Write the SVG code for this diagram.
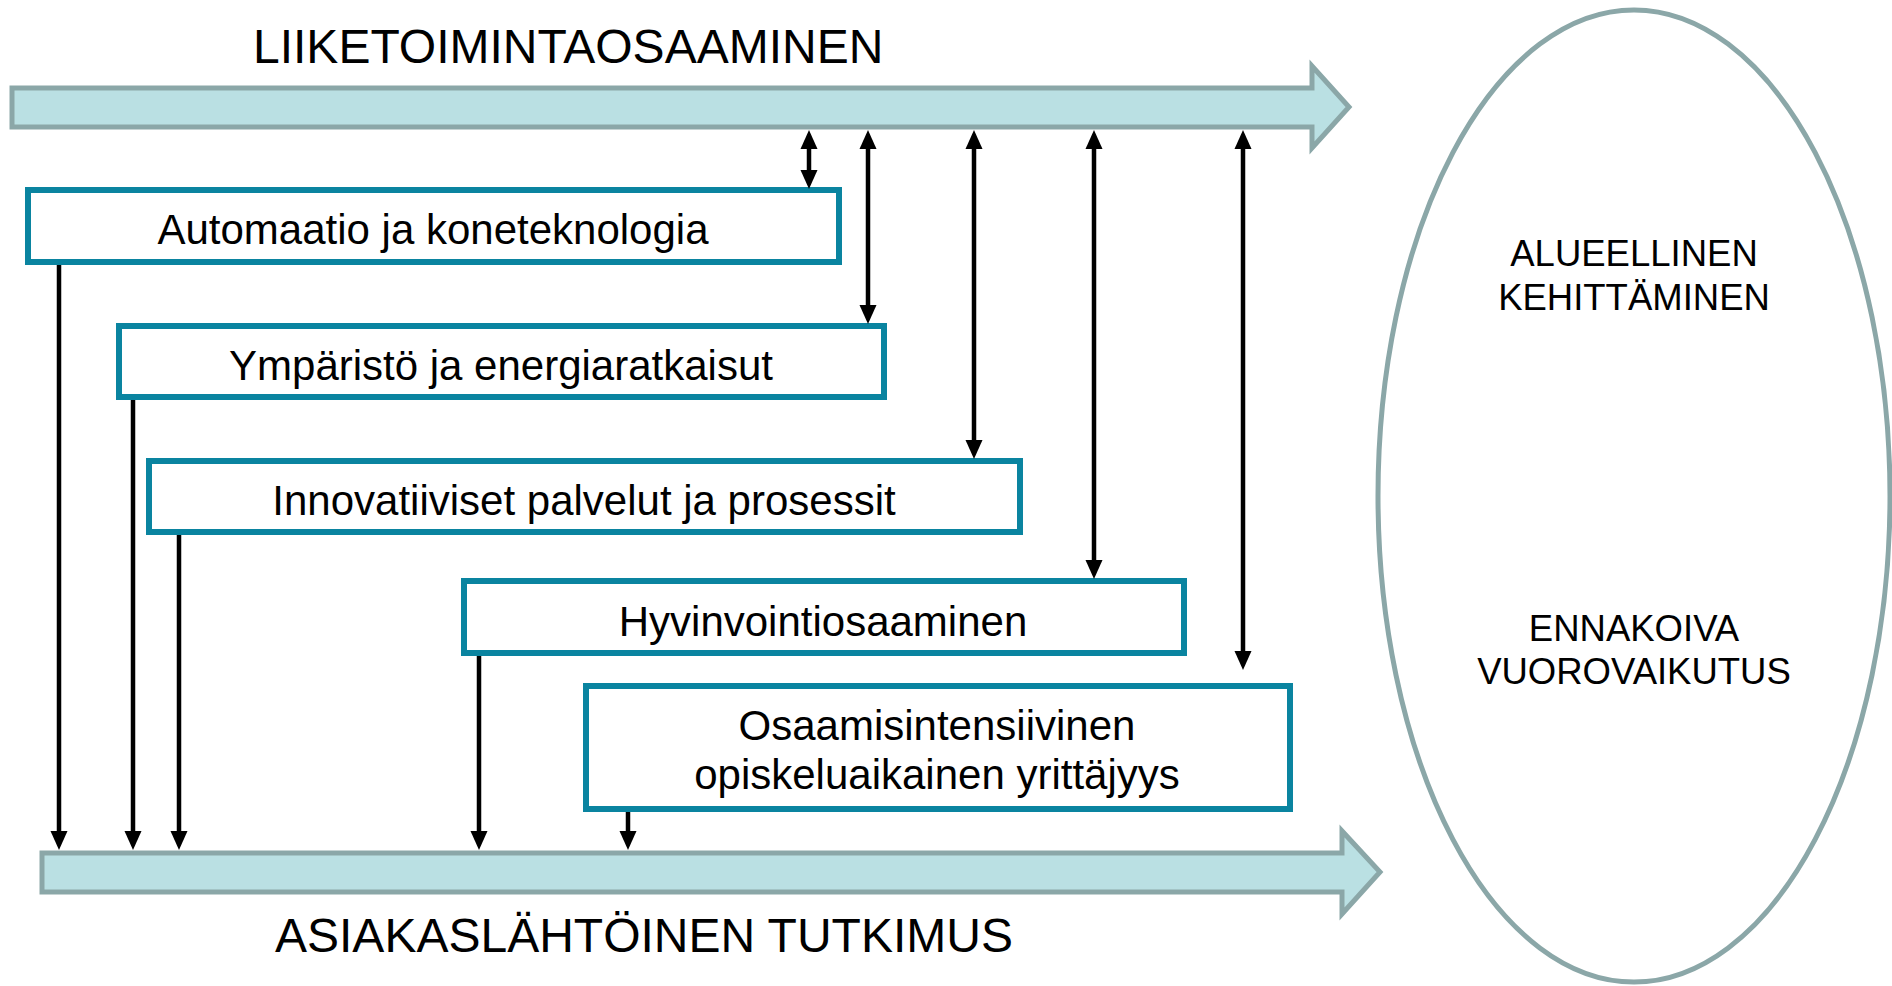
<svg xmlns="http://www.w3.org/2000/svg" width="1892" height="986" viewBox="0 0 1892 986">
<style>
  text { font-family: "Liberation Sans", Arial, sans-serif; fill: #000; }
  .title { font-size: 48px; }
  .box rect { fill: #fff; stroke: #0A84A0; stroke-width: 6; }
  .box text { font-size: 42px; text-anchor: middle; }
  .band { fill: #BAE0E3; stroke: #8BA7A8; stroke-width: 5; }
  .oval { fill: #fff; stroke: #8BA7A8; stroke-width: 5; }
  .oval-text { font-size: 36.5px; text-anchor: middle; }
  .conn line { stroke: #000; stroke-width: 4.5; fill: none; }
</style>
<defs>
  <marker id="ah" markerUnits="userSpaceOnUse" markerWidth="20" markerHeight="18" viewBox="0 0 20 18" refX="9" refY="9" orient="auto-start-reverse">
    <path d="M0,0.5 L19,9 L0,17.5 z" fill="#000"/>
  </marker>
</defs>
<rect width="1892" height="986" fill="#fff"/>

<g id="top-band">
  <polygon class="band" points="12,88 1312,88 1312,66 1349,107 1312,148 1312,127 12,127"/>
  <text class="title" x="253" y="63">LIIKETOIMINTAOSAAMINEN</text>
</g>

<g id="bottom-band">
  <polygon class="band" points="42,853 1342,853 1342,831 1380,872 1342,914 1342,892 42,892"/>
  <text class="title" x="275" y="952">ASIAKASLÄHTÖINEN TUTKIMUS</text>
</g>

<g id="oval">
  <ellipse class="oval" cx="1634" cy="496" rx="256" ry="486"/>
  <text class="oval-text" x="1634" y="266">ALUEELLINEN</text>
  <text class="oval-text" x="1634" y="310">KEHITTÄMINEN</text>
  <text class="oval-text" x="1634" y="641">ENNAKOIVA</text>
  <text class="oval-text" x="1634" y="684">VUOROVAIKUTUS</text>
</g>

<g id="box-automaatio" class="box">
  <rect x="28" y="190" width="811" height="72"/>
  <text x="433" y="244">Automaatio ja koneteknologia</text>
</g>
<g id="box-ymparisto" class="box">
  <rect x="119" y="326" width="765" height="71"/>
  <text x="501" y="380">Ympäristö ja energiaratkaisut</text>
</g>
<g id="box-innovatiiviset" class="box">
  <rect x="149" y="461" width="871" height="71"/>
  <text x="584" y="515">Innovatiiviset palvelut ja prosessit</text>
</g>
<g id="box-hyvinvointi" class="box">
  <rect x="464" y="581" width="720" height="72"/>
  <text x="823" y="636">Hyvinvointiosaaminen</text>
</g>
<g id="box-osaamis" class="box">
  <rect x="586" y="686" width="704" height="123"/>
  <text x="937" y="740">Osaamisintensiivinen</text>
  <text x="937" y="789">opiskeluaikainen yrittäjyys</text>
</g>

<g id="connectors" class="conn">
  <line x1="809" y1="140" x2="809" y2="179" marker-start="url(#ah)" marker-end="url(#ah)"/>
  <line x1="868" y1="140" x2="868" y2="314" marker-start="url(#ah)" marker-end="url(#ah)"/>
  <line x1="974" y1="140" x2="974" y2="449" marker-start="url(#ah)" marker-end="url(#ah)"/>
  <line x1="1094" y1="140" x2="1094" y2="569" marker-start="url(#ah)" marker-end="url(#ah)"/>
  <line x1="1243" y1="140" x2="1243" y2="660" marker-start="url(#ah)" marker-end="url(#ah)"/>
  <line x1="59" y1="265" x2="59" y2="840" marker-end="url(#ah)"/>
  <line x1="133" y1="400" x2="133" y2="840" marker-end="url(#ah)"/>
  <line x1="179" y1="535" x2="179" y2="840" marker-end="url(#ah)"/>
  <line x1="479" y1="656" x2="479" y2="840" marker-end="url(#ah)"/>
  <line x1="628" y1="812" x2="628" y2="840" marker-end="url(#ah)"/>
</g>
</svg>
